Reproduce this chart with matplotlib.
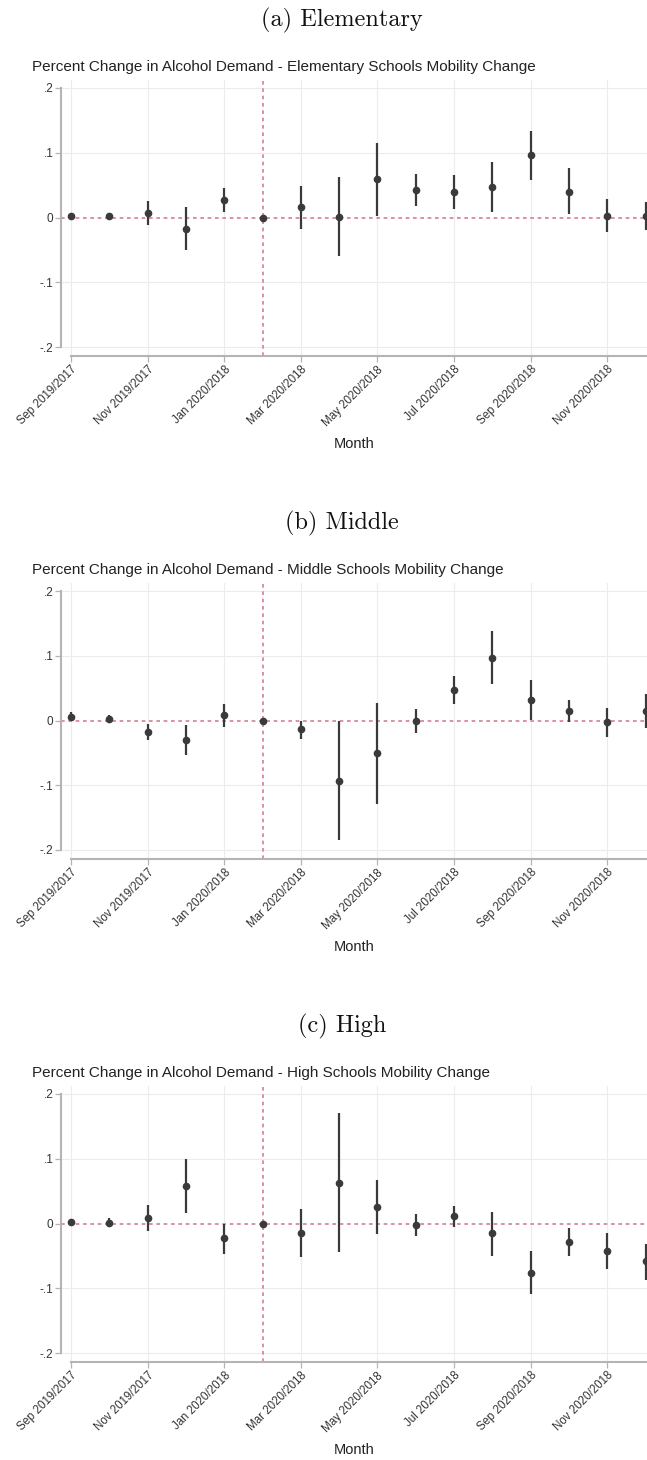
import numpy as np
import matplotlib
matplotlib.use("Agg")
from matplotlib import pyplot as plt

# months Sep 2019 .. Dec 2020 (event-study index 0..15), Feb 2020 = reference month
month_idx = np.arange(16)
tick_pos = [0, 2, 4, 6, 8, 10, 12, 14]
tick_labels = ["Sep 2019/2017", "Nov 2019/2017", "Jan 2020/2018", "Mar 2020/2018",
               "May 2020/2018", "Jul 2020/2018", "Sep 2020/2018", "Nov 2020/2018"]
ref_month = 5

y_ticks = [-0.2, -0.1, 0, 0.1, 0.2]
y_tick_labels = ["-.2", "-.1", "0", ".1", ".2"]

subtitles = ["(a) Elementary", "(b) Middle", "(c) High"]
titles = ["Percent Change in Alcohol Demand - Elementary Schools Mobility Change",
          "Percent Change in Alcohol Demand - Middle Schools Mobility Change",
          "Percent Change in Alcohol Demand - High Schools Mobility Change"]

elem_coef = [0.002, 0.002, 0.007, -0.017, 0.027, 0.0, 0.016, 0.001,
             0.059, 0.042, 0.039, 0.047, 0.096, 0.040, 0.003, 0.002]
elem_lo = [0.000, 0.000, -0.011, -0.050, 0.009, 0.0, -0.018, -0.060,
           0.003, 0.017, 0.013, 0.008, 0.058, 0.005, -0.023, -0.020]
elem_hi = [0.004, 0.004, 0.025, 0.016, 0.046, 0.0, 0.049, 0.063,
           0.115, 0.067, 0.066, 0.085, 0.134, 0.076, 0.029, 0.024]

mid_coef = [0.006, 0.003, -0.018, -0.030, 0.008, 0.0, -0.0135, -0.093,
            -0.0505, -0.001, 0.047, 0.096, 0.031, 0.015, -0.003, 0.015]
mid_lo = [-0.001, -0.004, -0.030, -0.053, -0.010, 0.0, -0.028, -0.184,
          -0.129, -0.019, 0.026, 0.056, 0.001, -0.002, -0.026, -0.011]
mid_hi = [0.013, 0.009, -0.005, -0.007, 0.025, 0.0, 0.000, 0.000,
          0.027, 0.017, 0.069, 0.138, 0.062, 0.032, 0.020, 0.041]

high_coef = [0.003, 0.001, 0.009, 0.058, -0.023, 0.0, -0.014, 0.063,
             0.026, -0.0025, 0.012, -0.015, -0.076, -0.028, -0.042, -0.058]
high_lo = [0.000, -0.006, -0.011, 0.016, -0.047, 0.0, -0.052, -0.044,
           -0.016, -0.019, -0.005, -0.050, -0.109, -0.050, -0.070, -0.087]
high_hi = [0.006, 0.008, 0.029, 0.099, 0.000, 0.0, 0.023, 0.170,
           0.067, 0.015, 0.027, 0.018, -0.042, -0.007, -0.015, -0.031]

panels = [(elem_coef, elem_lo, elem_hi),
          (mid_coef, mid_lo, mid_hi),
          (high_coef, high_lo, high_hi)]

W, H = 647, 1460
fig = plt.figure(figsize=(W / 100, H / 100), dpi=100)

dark = "#3a3a3a"
axis_grey = "#b4b4b4"
red = "#d67f90"
sans = ["Liberation Sans", "DejaVu Sans"]

for k, (coef, lo, hi) in enumerate(panels):
    off = 503 * k
    ax_top, ax_bot, ax_left = 80 + off, 356 + off, 61
    ax = fig.add_axes([ax_left / W, 1 - ax_bot / H, (W - ax_left) / W, (ax_bot - ax_top) / H])

    x0 = 71  # pixel of first month
    dx = 38.3
    ax.set_xlim(-(x0 - ax_left) / dx, (W - x0) / dx)
    per = 647.5  # px per unit
    ax.set_ylim(-0.2 - 9 / per, 0.2 + 8 / per)

    for t in tick_pos:
        ax.axvline(t, color="#ececec", lw=0.8, zorder=0)
    for t in [-0.2, -0.1, 0.1, 0.2]:
        ax.axhline(t, color="#ececec", lw=0.8, zorder=0)

    ax.axhline(0, color=red, lw=1.2, ls=(0, (2.2, 2.2)), zorder=1)
    ax.axvline(ref_month, color=red, lw=1.2, ls=(0, (2.2, 2.2)), zorder=1)

    coef = np.array(coef)
    lo = np.array(lo)
    hi = np.array(hi)
    ax.vlines(month_idx, lo, hi, color=dark, lw=1.6, zorder=3)
    ax.plot(month_idx, coef, "o", color=dark, ms=4.5, zorder=4)

    for s in ["top", "right"]:
        ax.spines[s].set_visible(False)
    ax.spines["left"].set_bounds(-0.2, 0.2)
    ax.spines["bottom"].set_bounds(0, (W - x0) / dx)
    for s in ["left", "bottom"]:
        ax.spines[s].set_color(axis_grey)
        ax.spines[s].set_linewidth(1.5)

    ax.set_yticks(y_ticks)
    ax.set_yticklabels(y_tick_labels, family=sans, fontsize=8.5)
    ax.set_xticks(tick_pos)
    ax.set_xticklabels(tick_labels, family=sans, fontsize=8.3,
                       rotation=45, ha="right", va="top", rotation_mode="anchor")
    ax.tick_params(axis="both", colors=axis_grey, length=4, width=0.9, pad=1.5,
                   labelcolor="#333333")

    ax.set_xlabel("Month", family=sans, fontsize=10.5, color="#222222", labelpad=6)

    fig.text(32 / W, 1 - (67 + off) / H, titles[k], family=sans, fontsize=11,
             color="#222222", ha="left", va="center")
    fig.text(342 / W, 1 - (20 + off) / H, subtitles[k], family=["cmr10", "DejaVu Serif"],
             fontsize=17.5, color="#111111", ha="center", va="center")

fig.savefig("out.png", dpi=100)
